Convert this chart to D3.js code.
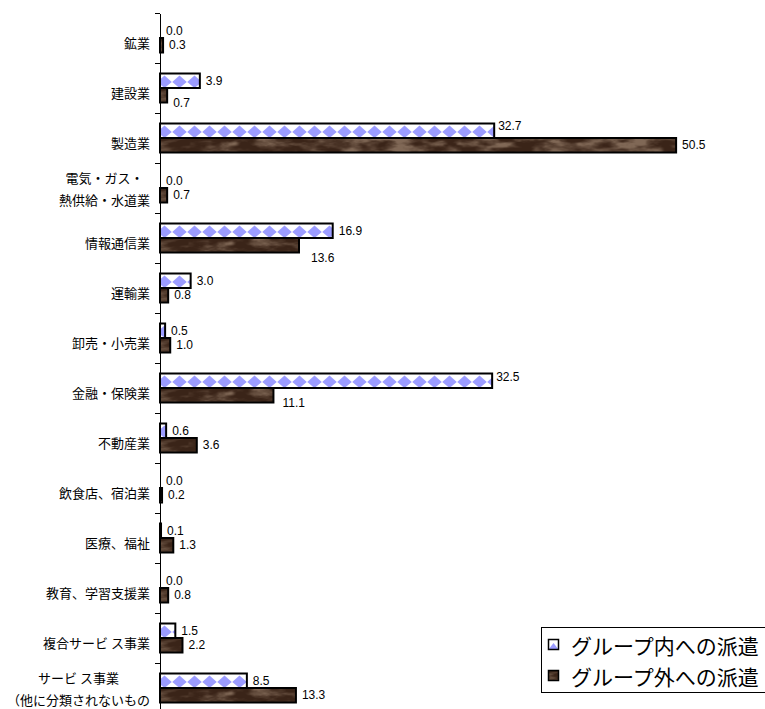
<!DOCTYPE html>
<html>
<head>
<meta charset="utf-8">
<script src="https://cdn.jsdelivr.net/npm/d3@7"></script>
<style>
  html, body { margin: 0; padding: 0; background: #fff; }
  svg { display: block; }
</style>
</head>
<body>
<svg id="chart" width="765" height="709"></svg>
<script>
// Industries (multi-line labels split on \n)
const categories = [
  "鉱業",
  "建設業",
  "製造業",
  "電気・ガス・\n熱供給・水道業",
  "情報通信業",
  "運輸業",
  "卸売・小売業",
  "金融・保険業",
  "不動産業",
  "飲食店、宿泊業",
  "医療、福祉",
  "教育、学習支援業",
  "複合サービ ス事業",
  "サービ ス事業\n（他に分類されないもの"
];
const seriesNames = ["グループ内への派遣", "グループ外への派遣"];
const inGroup  = [0.0, 3.9, 32.7, 0.0, 16.9, 3.0, 0.5, 32.5, 0.6, 0.0, 0.1, 0.0, 1.5, 8.5];
const outGroup = [0.3, 0.7, 50.5, 0.7, 13.6, 0.8, 1.0, 11.1, 3.6, 0.2, 1.3, 0.8, 2.2, 13.3];

// Hand-placed label offsets where a value label sits off its bar
const labelNudge = {
  "1|1": [0, 8],
  "2|0": [-2, -5],
  "4|1": [6, 13],
  "7|0": [-2, -4],
  "7|1": [3, 8]
};

const svg = d3.select("#chart");
const axisX = 160;
const BLUE = "#9c9cff";
const BROWN = "#4e3222";

const x = d3.scaleLinear().domain([0, 60]).range([axisX, axisX + 613.2]);
const y = d3.scaleBand().domain(d3.range(categories.length))
  .range([13, 713]).paddingInner(0.42).paddingOuter(0.21);
const ySub = d3.scaleBand().domain([0, 1]).range([0, y.bandwidth()]);
const barH = ySub.bandwidth();

// ---- wood / leather grain texture painted on a canvas (deterministic value noise)
function hash(ix, iy) {
  let h = Math.imul(ix, 374761393) ^ Math.imul(iy, 668265263);
  h = Math.imul(h ^ (h >>> 13), 1274126177);
  h ^= h >>> 16;
  return (h >>> 0) / 4294967295;
}
function smooth(t) { return t * t * (3 - 2 * t); }
function vnoise(px, py) {
  const ix = Math.floor(px), iy = Math.floor(py);
  const fx = smooth(px - ix), fy = smooth(py - iy);
  const a = hash(ix, iy), b = hash(ix + 1, iy), c = hash(ix, iy + 1), d = hash(ix + 1, iy + 1);
  return (a + (b - a) * fx) * (1 - fy) + (c + (d - c) * fx) * fy;
}
function grainTexture(w, h) {
  const cv = document.createElement("canvas");
  cv.width = w; cv.height = h;
  const ctx = cv.getContext("2d");
  const img = ctx.createImageData(w, h);
  const dark = [58, 36, 24], light = [128, 104, 86];
  for (let j = 0; j < h; j++) {
    for (let i = 0; i < w; i++) {
      let v = 0, amp = 0.5, fx = 1 / 18, fy = 1 / 6, norm = 0;
      for (let o = 0; o < 4; o++) {
        v += amp * vnoise(i * fx + o * 17.3, j * fy + o * 5.1);
        norm += amp; amp *= 0.5; fx *= 2; fy *= 2;
      }
      v /= norm;
      let t = Math.max(0, Math.min(1, (v - 0.34) / 0.4));
      t = Math.pow(t, 1.4);
      const k = (j * w + i) * 4;
      img.data[k]     = dark[0] + (light[0] - dark[0]) * t;
      img.data[k + 1] = dark[1] + (light[1] - dark[1]) * t;
      img.data[k + 2] = dark[2] + (light[2] - dark[2]) * t;
      img.data[k + 3] = 255;
    }
  }
  ctx.putImageData(img, 0, 0);
  return cv.toDataURL("image/png");
}
const texW = 540, texH = 16;
const woodURL = grainTexture(texW, texH);

// Diamond polygon clipped to the bar's horizontal extent
function clipPoly(pts, x0, x1) {
  const clipEdge = (poly, inside, cross) => {
    const out = [];
    for (let k = 0; k < poly.length; k++) {
      const p = poly[k], q = poly[(k + 1) % poly.length];
      const pin = inside(p), qin = inside(q);
      if (pin) out.push(p);
      if (pin !== qin) out.push(cross(p, q));
    }
    return out;
  };
  const at = (p, q, xv) => [xv, p[1] + (q[1] - p[1]) * (xv - p[0]) / (q[0] - p[0])];
  let poly = clipEdge(pts, p => p[0] >= x0, (p, q) => at(p, q, x0));
  if (poly.length) poly = clipEdge(poly, p => p[0] <= x1, (p, q) => at(p, q, x1));
  return poly;
}
function diamondsFor(x0, x1, top) {
  const out = [];
  for (let cx = x0 + 4.5; cx - 7.5 < x1; cx += 15) {
    const pts = [[cx, top + 2], [cx + 7.3, top + 8.6], [cx, top + 14.5], [cx - 7.3, top + 8.6]];
    const poly = clipPoly(pts, x0, x1);
    if (poly.length > 2) out.push(poly);
  }
  return out;
}

// ---- bars
const rows = categories.map((c, i) => ({ i, values: [inGroup[i], outGroup[i]] }));
const groups = svg.append("g").selectAll("g")
  .data(rows).join("g")
  .attr("transform", d => `translate(0,${y(d.i)})`);

const cells = groups.selectAll("g.bar")
  .data(d => d.values.map((v, s) => ({ v, s, i: d.i })))
  .join("g").attr("class", "bar");

cells.append("rect")
  .attr("x", x(0)).attr("y", d => ySub(d.s))
  .attr("width", d => x(d.v) - x(0)).attr("height", barH)
  .attr("fill", d => d.s === 0 ? "#fff" : BROWN);

// blue diamonds
cells.filter(d => d.s === 0).each(function (d) {
  const polys = diamondsFor(x(0), x(d.v), ySub(d.s));
  d3.select(this).selectAll("path.dia").data(polys).join("path")
    .attr("class", "dia")
    .attr("d", p => "M" + p.map(q => q.join(",")).join("L") + "Z")
    .attr("fill", BLUE);
});

// brown grain
cells.filter(d => d.s === 1 && x(d.v) - x(0) > 0).append("image")
  .attr("x", x(0)).attr("y", d => ySub(d.s))
  .attr("width", d => x(d.v) - x(0)).attr("height", barH)
  .attr("preserveAspectRatio", "xMinYMin slice")
  .attr("href", woodURL);

// outlines
cells.append("rect")
  .attr("x", x(0)).attr("y", d => ySub(d.s))
  .attr("width", d => x(d.v) - x(0)).attr("height", barH)
  .attr("fill", "none")
  .attr("stroke", "#000")
  .attr("stroke-width", 2);

// value labels
groups.selectAll("text.val")
  .data(d => d.values.map((v, s) => ({ v, s, i: d.i })))
  .join("text")
  .attr("class", "val")
  .attr("x", d => x(d.v) + 6 + (labelNudge[d.i + "|" + d.s] || [0, 0])[0])
  .attr("y", d => ySub(d.s) + barH / 2 + (labelNudge[d.i + "|" + d.s] || [0, 0])[1])
  .attr("dominant-baseline", "central")
  .attr("font-family", "'Liberation Sans', Arial, sans-serif")
  .attr("font-size", 12)
  .attr("fill", "#000")
  .text(d => d3.format(".1f")(d.v));

// ---- axis with ticks on the category boundaries
const boundary = d3.scaleLinear().domain([0, categories.length]).range([13, 713]);
svg.append("g")
  .attr("transform", `translate(${axisX},0)`)
  .call(d3.axisLeft(boundary)
    .tickValues(d3.range(categories.length + 1))
    .tickFormat("")
    .tickSize(5)
    .tickSizeOuter(0))
  .call(g => g.selectAll("path,line").attr("stroke", "#000").attr("shape-rendering", "crispEdges"));

// ---- category labels
const catFont = "'Noto Sans CJK JP', sans-serif";
const labelRight = 150;
categories.forEach((c, i) => {
  const lines = c.split("\n");
  const cy = y(i) + y.bandwidth() / 2;
  const t = svg.append("text")
    .attr("font-family", catFont)
    .attr("font-size", 13)
    .attr("fill", "#000");
  if (lines.length === 1) {
    t.attr("x", labelRight).attr("y", cy + 4)
      .attr("text-anchor", "end")
      .attr("dominant-baseline", "central")
      .text(c);
  } else {
    const spans = t.selectAll("tspan").data(lines).join("tspan")
      .attr("dominant-baseline", "central")
      .text(d => d);
    const widest = d3.max(spans.nodes(), n => n.getComputedTextLength());
    spans.attr("x", labelRight - widest / 2)
      .attr("text-anchor", "middle")
      .attr("y", (d, k) => cy - 11 + k * 22);
  }
});

// ---- legend
const legend = svg.append("g");
legend.append("rect")
  .attr("x", 541.5).attr("y", 627.5)
  .attr("width", 240).attr("height", 65)
  .attr("fill", "#fff").attr("stroke", "#000").attr("stroke-width", 1);

seriesNames.forEach((name, s) => {
  const ly = 645 + s * 31;
  const g = legend.append("g");
  g.append("rect")
    .attr("x", 548.5).attr("y", ly - 5.5)
    .attr("width", 10).attr("height", 10)
    .attr("fill", s === 0 ? "#fff" : BROWN);
  if (s === 0) {
    g.append("path")
      .attr("d", `M548.5,${ly + 4.5} L553.5,${ly - 2} L558.5,${ly + 4.5} Z`)
      .attr("fill", BLUE);
  } else {
    g.append("image")
      .attr("x", 548.5).attr("y", ly - 5.5)
      .attr("width", 10).attr("height", 10)
      .attr("preserveAspectRatio", "xMinYMin slice")
      .attr("href", woodURL);
  }
  g.append("rect")
    .attr("x", 548.5).attr("y", ly - 5.5)
    .attr("width", 10).attr("height", 10)
    .attr("fill", "none").attr("stroke", "#000").attr("stroke-width", 1.5);
  g.append("text")
    .attr("x", 571).attr("y", ly)
    .attr("dominant-baseline", "central")
    .attr("font-family", catFont)
    .attr("font-size", 21)
    .attr("fill", "#000")
    .text(name);
});
</script>
</body>
</html>
